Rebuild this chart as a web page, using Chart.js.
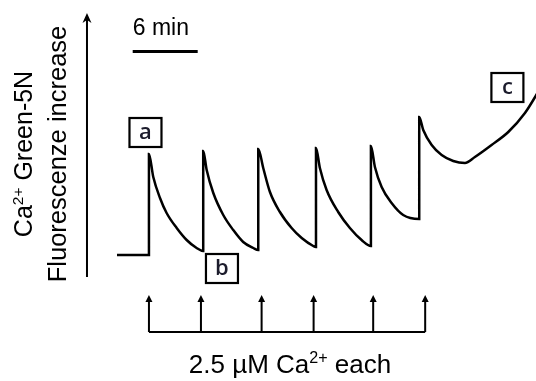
<!DOCTYPE html>
<html>
<head>
<meta charset="utf-8">
<script src="https://cdn.jsdelivr.net/npm/chart.js@4.4.1/dist/chart.umd.min.js"></script>
<style>
  html, body { margin: 0; padding: 0; background: #fff; }
  #wrap { width: 536px; height: 381px; position: relative; }
</style>
</head>
<body>
<div id="wrap"><canvas id="trace"></canvas></div>
<script>
// time in min, fluorescence in arbitrary units (baseline = 0)
const traceTime = [-2.95, 0, 0, 0.40, 1.02, 1.63, 2.56, 3.48, 4.40, 5.01,
  5.01, 5.33, 5.94, 6.86, 7.78, 8.70, 9.63, 10.09,
  10.09, 10.55, 11.17, 12.09, 13.17, 14.10, 15.17, 15.42,
  15.42, 15.78, 16.40, 17.47, 18.55, 19.63, 20.49,
  20.49, 20.86, 21.48, 22.40, 23.47, 24.95,
  24.95, 25.32, 26.10, 27.02, 28.09, 29.17, 30.09, 31.63, 33.17, 34.71, 36.20];
const traceF = [0, 0, 1.01, 0.78, 0.57, 0.42, 0.27, 0.15, 0.07, 0.04,
  1.04, 0.85, 0.62, 0.40, 0.25, 0.13, 0.07, 0.05,
  1.06, 0.87, 0.63, 0.43, 0.27, 0.17, 0.09, 0.08,
  1.07, 0.87, 0.65, 0.43, 0.27, 0.15, 0.09,
  1.09, 0.88, 0.68, 0.52, 0.40, 0.36,
  1.38, 1.25, 1.10, 1.00, 0.94, 0.92, 0.98, 1.10, 1.23, 1.42, 1.68];

// Ca2+ additions (2.5 uM each), min
const additionTimes = [0, 4.8, 10.4, 15.2, 20.7, 25.5];

// scale bar
const scaleBarStart = -1.5;
const scaleBarLength = 6;

// boxed labels
const labelNames = ['a', 'b', 'c'];
const labelTime = [-0.32, 6.74, 33.09];
const labelF = [1.225, -0.135, 1.675];

const points = traceTime.map((t, i) => ({ x: t, y: traceF[i] }));

// text with superscript parts, centered on (cx, baseline by)
function richText(ctx, parts, cx, by, size) {
  const widths = parts.map(p => {
    ctx.font = `${p.sup ? size * 0.62 : size}px "Liberation Sans", Arial, sans-serif`;
    return ctx.measureText(p.t).width;
  });
  let x = cx - widths.reduce((a, b) => a + b, 0) / 2;
  parts.forEach((p, i) => {
    ctx.font = `${p.sup ? size * 0.62 : size}px "Liberation Sans", Arial, sans-serif`;
    ctx.fillText(p.t, x, p.sup ? by - size * 0.38 : by);
    x += widths[i];
  });
}

const decorations = {
  id: 'decorations',
  afterDraw(chart) {
    const { ctx, scales: { x, y } } = chart;
    ctx.save();
    ctx.fillStyle = '#000';
    ctx.strokeStyle = '#000';
    ctx.textAlign = 'left';
    ctx.textBaseline = 'alphabetic';

    // y axis arrow
    const ax = x.getPixelForValue(-5.72);
    const top = y.getPixelForValue(2.42);
    const bottom = y.getPixelForValue(-0.22);
    ctx.lineWidth = 2;
    ctx.beginPath();
    ctx.moveTo(ax, bottom);
    ctx.lineTo(ax, top + 6);
    ctx.stroke();
    ctx.beginPath();
    ctx.moveTo(ax, top);
    ctx.lineTo(ax + 4.5, top + 10);
    ctx.lineTo(ax, top + 7);
    ctx.lineTo(ax - 4.5, top + 10);
    ctx.closePath();
    ctx.fill();

    // y axis title (two rotated lines)
    ctx.save();
    ctx.translate(32, 154);
    ctx.rotate(-Math.PI / 2);
    richText(ctx, [{ t: 'Ca' }, { t: '2+', sup: true }, { t: ' Green-5N' }], 0, 0, 25);
    ctx.restore();
    ctx.save();
    ctx.translate(66, 154);
    ctx.rotate(-Math.PI / 2);
    richText(ctx, [{ t: 'Fluorescenze increase' }], 0, 0, 25.5);
    ctx.restore();

    // scale bar
    const sb0 = x.getPixelForValue(scaleBarStart);
    const sb1 = x.getPixelForValue(scaleBarStart + scaleBarLength);
    ctx.lineWidth = 3;
    ctx.beginPath();
    ctx.moveTo(sb0, 51.5);
    ctx.lineTo(sb1, 51.5);
    ctx.stroke();
    ctx.font = '23px "Liberation Sans", Arial, sans-serif';
    ctx.fillText(`${scaleBarLength} min`, sb0, 35);

    // additions
    const xs = additionTimes.map(t => x.getPixelForValue(t));
    const aTop = 295, aBase = 332;
    ctx.lineWidth = 2;
    ctx.beginPath();
    ctx.moveTo(xs[0], aBase);
    ctx.lineTo(xs[xs.length - 1], aBase);
    xs.forEach(px => {
      ctx.moveTo(px, aBase);
      ctx.lineTo(px, aTop + 4);
    });
    ctx.stroke();
    xs.forEach(px => {
      ctx.beginPath();
      ctx.moveTo(px, aTop);
      ctx.lineTo(px + 3.5, aTop + 7);
      ctx.lineTo(px - 3.5, aTop + 7);
      ctx.closePath();
      ctx.fill();
    });
    richText(ctx, [{ t: '2.5 \u00b5M Ca' }, { t: '2+', sup: true }, { t: ' each' }], 290, 373, 26);

    // boxed labels
    labelNames.forEach((name, i) => {
      const cx = x.getPixelForValue(labelTime[i]);
      const cy = y.getPixelForValue(labelF[i]);
      ctx.lineWidth = 2.2;
      ctx.fillStyle = '#fff';
      ctx.fillRect(cx - 16, cy - 14.5, 32, 29);
      ctx.strokeRect(cx - 16, cy - 14.5, 32, 29);
      ctx.fillStyle = '#1c1c2c';
      ctx.font = '600 22px "Open Sans", sans-serif';
      ctx.textAlign = 'center';
      ctx.textBaseline = 'middle';
      ctx.fillText(name, cx, cy);
      ctx.textAlign = 'left';
      ctx.textBaseline = 'alphabetic';
      ctx.fillStyle = '#000';
    });
    ctx.restore();
  }
};

new Chart(document.getElementById('trace'), {
  type: 'line',
  data: {
    datasets: [{
      label: 'Ca2+ Green-5N',
      data: points,
      borderColor: '#000',
      borderWidth: 2.5,
      pointRadius: 0,
      fill: false,
      cubicInterpolationMode: 'monotone'
    }]
  },
  options: {
    responsive: true,
    maintainAspectRatio: false,
    animation: false,
    layout: { padding: 0 },
    scales: {
      x: { type: 'linear', min: -13.75, max: 35.73, display: false },
      y: { type: 'linear', min: -1.26, max: 2.55, display: false }
    },
    plugins: {
      legend: { display: false },
      tooltip: { enabled: false }
    }
  },
  plugins: [decorations]
});
</script>
</body>
</html>
